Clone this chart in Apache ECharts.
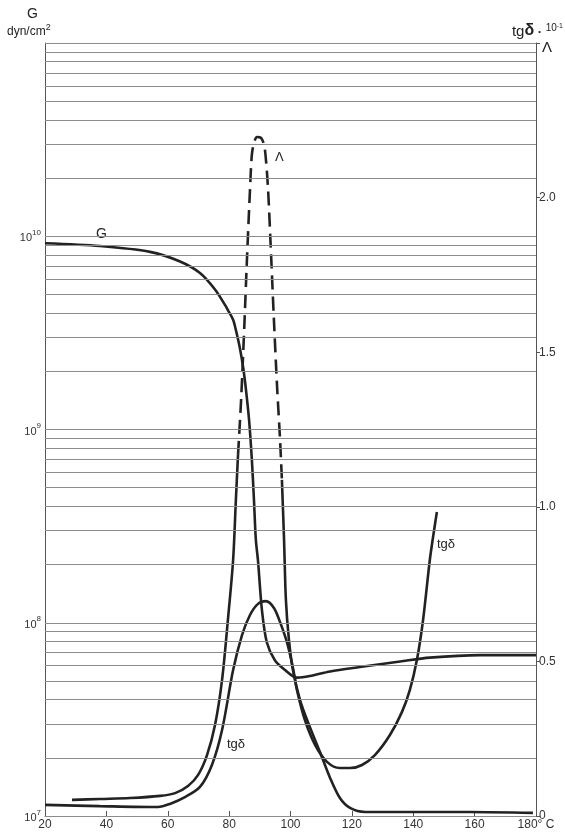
<!DOCTYPE html>
<html>
<head>
<meta charset="utf-8">
<script src="https://cdn.jsdelivr.net/npm/echarts@6/dist/echarts.min.js"></script>
<style>
  html, body { margin: 0; padding: 0; background: #ffffff; }
  #chart { width: 565px; height: 834px; }
</style>
</head>
<body>
<div id="chart"></div>
<script>
// Temperature axis (°C)
const tempTicks = [20, 40, 60, 80, 100, 120, 140, 160, 180];

// Shear modulus G (dyn/cm²) versus temperature
const gCurve = [
  [20, 9.2e9], [37.9, 8.9e9], [54.2, 8.3e9], [64.0, 7.4e9], [70.5, 6.45e9],
  [75.4, 5.3e9], [78.7, 4.4e9], [79.6, 4.15e9], [81.3, 3.7e9], [82.2, 3.27e9],
  [83.5, 2.64e9], [84.6, 2.08e9], [85.5, 1.6e9], [86.5, 1.12e9], [87.4, 7.0e8],
  [88.1, 4.3e8], [88.7, 2.7e8], [89.4, 2.1e8], [90.7, 1.16e8], [92.3, 7.9e7],
  [94.9, 6.4e7], [98.2, 5.7e7], [102.1, 5.2e7], [106.3, 5.3e7], [112.9, 5.6e7],
  [122.6, 5.9e7], [135.7, 6.3e7], [145.4, 6.6e7], [161.7, 6.8e7], [180, 6.8e7]
];

// Logarithmic decrement Λ: measured flanks (solid) and peak (dashed)
const lambdaRise = [
  [28.8, 0.052], [37.9, 0.055], [47.7, 0.058], [57.5, 0.065], [62.4, 0.074],
  [66.6, 0.097], [69.9, 0.133], [72.8, 0.197], [75.4, 0.294], [77.7, 0.440],
  [79.6, 0.634], [81.3, 0.828], [82.2, 1.022], [82.9, 1.168]
];
const lambdaPeak = [
  [82.9, 1.168], [83.9, 1.345], [84.9, 1.572], [85.8, 1.798], [86.8, 2.025],
  [87.4, 2.138], [88.1, 2.177], [89.1, 2.196], [90.4, 2.193], [91.4, 2.170],
  [92.0, 2.122], [92.7, 2.025], [93.6, 1.831], [94.6, 1.604], [95.6, 1.394],
  [96.6, 1.216], [97.2, 1.087]
];
const lambdaFall = [
  [97.2, 1.087], [97.9, 0.893], [98.5, 0.699], [99.5, 0.569], [100.8, 0.472],
  [103.1, 0.375], [106.3, 0.288], [109.6, 0.207], [112.9, 0.123],
  [116.1, 0.058], [119.4, 0.026], [124.3, 0.013], [135.7, 0.013],
  [158.5, 0.013], [179, 0.010]
];

// Loss tangent tgδ · 10⁻¹
const tanDelta = [
  [20, 0.036], [37.9, 0.032], [56.8, 0.029], [60.7, 0.039], [65.6, 0.061],
  [70.5, 0.094], [74.4, 0.165], [77.7, 0.278], [81.3, 0.472], [84.2, 0.585],
  [86.8, 0.650], [89.4, 0.686], [92.0, 0.695], [94.6, 0.673], [96.6, 0.627],
  [98.9, 0.560], [100.8, 0.479], [102.1, 0.408], [104.7, 0.310], [108.0, 0.230],
  [111.9, 0.175], [116.1, 0.155], [119.4, 0.155], [123.3, 0.165],
  [127.5, 0.197], [132.4, 0.262], [136.3, 0.336], [138.9, 0.408],
  [141.2, 0.505], [143.2, 0.634], [145.4, 0.828], [146.8, 0.925], [147.7, 0.983]
];

// Horizontal rulings of the logarithmic G scale: 1…9 × 10ⁿ
const gDecades = [1e7, 1e8, 1e9, 1e10];
const gRulings = [];
gDecades.forEach(d => { for (let m = 1; m <= 9; m++) gRulings.push(m * d); });
gRulings.push(1e11);

// Right-hand scale labels
const rightTicks = [0, 0.5, 1.0, 1.5, 2.0];

const FONT = 'Liberation Sans';
const INK = '#222';

const chart = echarts.init(document.getElementById('chart'), null, { renderer: 'canvas' });

const curveStyle = { color: INK, width: 2.6 };
const SMOOTH = 0.3;

chart.setOption({
  backgroundColor: '#ffffff',
  animation: false,
  grid: { left: 45, right: 29, top: 43, bottom: 18 },
  xAxis: {
    type: 'value', min: 20, max: 180, interval: 20,
    axisLine: { lineStyle: { color: '#555', width: 1 } },
    axisTick: { inside: true, length: 5, lineStyle: { color: '#555' } },
    splitLine: { show: false },
    axisLabel: {
      color: '#333', fontFamily: FONT, fontSize: 12, margin: 3,
      formatter: v => (tempTicks.includes(v) ? (v === 180 ? '180° C' : String(v)) : ''),
      showMaxLabel: true
    }
  },
  yAxis: [
    {
      type: 'log', logBase: 10, min: 1e7, max: 1e11,
      axisLine: { show: true, lineStyle: { color: '#555', width: 1 } },
      axisTick: { show: false },
      splitLine: { show: false },
      axisLabel: {
        color: '#333', fontFamily: FONT, margin: 4,
        formatter: v => {
          const e = Math.round(Math.log10(v));
          return e >= 11 ? '' : '{b|10}{s|' + e + '}';
        },
        rich: {
          b: { fontFamily: FONT, fontSize: 11, color: '#333', lineHeight: 15, verticalAlign: 'bottom' },
          s: { fontFamily: FONT, fontSize: 8, color: '#333', lineHeight: 15, verticalAlign: 'top' }
        }
      }
    },
    {
      type: 'value', min: 0, max: 2.5, interval: 0.5, position: 'right',
      axisLine: { show: true, lineStyle: { color: '#555', width: 1 } },
      axisTick: { show: true, length: 4, lineStyle: { color: '#555' } },
      splitLine: { show: false },
      axisLabel: {
        color: '#333', fontFamily: FONT, fontSize: 12, margin: 3,
        formatter: v => {
          if (!rightTicks.some(t => Math.abs(t - v) < 1e-9)) return '';
          return v === 0 ? '0' : v.toFixed(1);
        }
      }
    }
  ],
  series: [
    {
      name: 'G', type: 'line', yAxisIndex: 0, data: gCurve,
      showSymbol: false, smooth: SMOOTH,
      lineStyle: curveStyle, z: 3,
      markLine: {
        silent: true, symbol: 'none', animation: false,
        label: { show: false },
        lineStyle: { color: '#8c8c8c', width: 1, type: 'solid' },
        data: gRulings.map(v => ({ yAxis: v }))
      }
    },
    {
      name: 'Λ', type: 'line', yAxisIndex: 1, data: lambdaRise,
      showSymbol: false, smooth: SMOOTH,
      lineStyle: curveStyle, z: 4
    },
    {
      name: 'Λ peak', type: 'line', yAxisIndex: 1, data: lambdaPeak,
      showSymbol: false, smooth: SMOOTH,
      lineStyle: { color: INK, width: 2.6, type: [14, 7] }, z: 4
    },
    {
      name: 'Λ fall', type: 'line', yAxisIndex: 1, data: lambdaFall,
      showSymbol: false, smooth: SMOOTH,
      lineStyle: curveStyle, z: 4
    },
    {
      name: 'tgδ', type: 'line', yAxisIndex: 1, data: tanDelta,
      showSymbol: false, smooth: SMOOTH,
      lineStyle: curveStyle, z: 4
    }
  ],
  graphic: [
    { type: 'text', left: 27, top: 7, style: { text: 'G', font: '14px ' + FONT, fill: '#222' } },
    {
      type: 'text', left: 7, top: 23,
      style: {
        text: '{a|dyn/cm}{s|2}',
        rich: {
          a: { font: '12px ' + FONT, fill: '#222', lineHeight: 15, verticalAlign: 'bottom' },
          s: { font: '9px ' + FONT, fill: '#222', lineHeight: 15, verticalAlign: 'top' }
        }
      }
    },
    {
      type: 'text', right: 2, top: 21,
      style: {
        text: '{a|tg}{d|δ}{b| · }{c|10}{s|-1}',
        rich: {
          a: { font: '15px ' + FONT, fill: '#222', lineHeight: 18, verticalAlign: 'bottom' },
          d: { font: 'bold 16px ' + FONT, fill: '#222', lineHeight: 18, verticalAlign: 'bottom' },
          b: { font: 'bold 13px ' + FONT, fill: '#222', lineHeight: 18, verticalAlign: 'bottom' },
          c: { font: '10px ' + FONT, fill: '#222', lineHeight: 18, verticalAlign: 'top', padding: [2, 0, 0, 0] },
          s: { font: '7px ' + FONT, fill: '#222', lineHeight: 18, verticalAlign: 'top', padding: [2, 0, 0, 0] }
        }
      }
    },
    { type: 'text', left: 542, top: 40, style: { text: 'Λ', font: '15px ' + FONT, fill: '#222' } },
    { type: 'text', left: 96, top: 227, style: { text: 'G', font: '14px ' + FONT, fill: '#222' } },
    { type: 'text', left: 275, top: 151, style: { text: 'Λ', font: '13px ' + FONT, fill: '#222' } },
    { type: 'text', left: 437, top: 538, style: { text: 'tgδ', font: '13px ' + FONT, fill: '#222' } },
    { type: 'text', left: 227, top: 738, style: { text: 'tgδ', font: '13px ' + FONT, fill: '#222' } }
  ]
});
</script>
</body>
</html>
